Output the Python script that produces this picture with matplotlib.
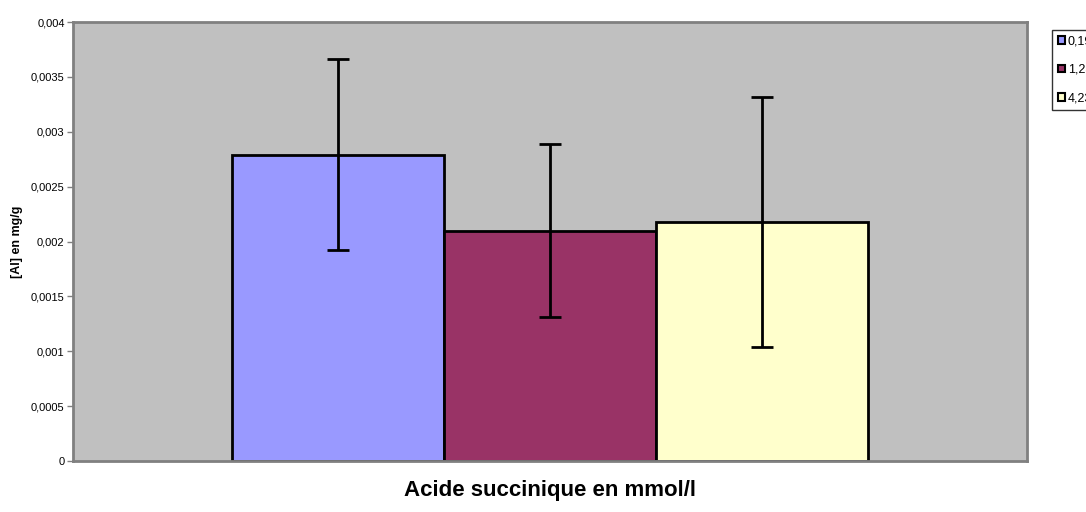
import numpy as np
import matplotlib.pyplot as plt

plt.rcParams['font.family'] = ['Liberation Sans', 'DejaVu Sans']

# concentrations (mmol/l) and [Al] values
labels = ["0,19", "1,23", "4,23"]
values = [0.00279, 0.00210, 0.00218]
errors = [0.00087, 0.00079, 0.00114]
colors = ["#9999ff", "#993366", "#ffffcc"]

fig = plt.figure(figsize=(10.86, 5.12), dpi=100)
ax = fig.add_axes([0.0672, 0.0996, 0.8785, 0.8574])
ax.set_facecolor("#c0c0c0")

x = np.array([-1, 0, 1])
for i in range(len(values)):
    ax.bar(x[i], values[i], width=1.0, color=colors[i], edgecolor="black",
           linewidth=2, label=labels[i], zorder=2)
    ax.errorbar(x[i], values[i], yerr=errors[i], fmt="none", ecolor="black",
                elinewidth=2, capsize=8, capthick=2, zorder=3)

ax.set_xlim(-2.25, 2.25)
ax.set_ylim(0, 0.004)
ticks = np.arange(0, 0.00401, 0.0005)
ax.set_yticks(ticks)
ax.set_yticklabels(["0", "0,0005", "0,001", "0,0015", "0,002", "0,0025",
                    "0,003", "0,0035", "0,004"], fontsize=8)
ax.set_xticks([])
ax.tick_params(axis="y", direction="out", length=4, width=1, color="#808080", pad=2)
for s in ax.spines.values():
    s.set_color("#808080")
    s.set_linewidth(2)

ax.set_ylabel("[Al] en mg/g", fontsize=9, fontweight="bold", labelpad=6)
ax.set_xlabel("Acide succinique en mmol/l", fontsize=16, fontweight="bold", labelpad=14)

# legend sits at the right edge, partly cut off as in the original
leg = fig.legend(loc="upper left", bbox_to_anchor=(1052 / 1086, 1 - 30 / 512),
                 fontsize=9, frameon=True, fancybox=False, handlelength=0.55,
                 handleheight=0.6, handletextpad=0.25, labelspacing=1.3,
                 borderpad=0.45, borderaxespad=0)
leg.get_frame().set_edgecolor("black")
leg.get_frame().set_linewidth(1)
for h in leg.legend_handles:
    h.set_linewidth(1.5)

fig.savefig("out.png", dpi=100)
